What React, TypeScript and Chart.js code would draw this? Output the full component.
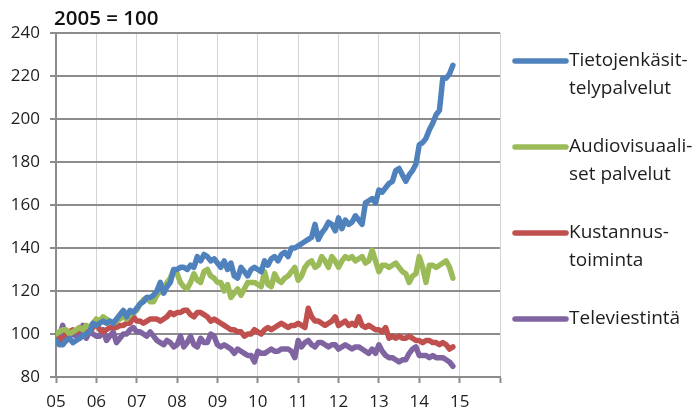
import React, { useEffect, useRef } from "react";
import { Chart, registerables } from "chart.js";

Chart.register(...registerables);

// Monthly index values, Jan 2005 – Nov 2014 (2005 = 100)
const startYear = 2005;

const tietojenkasittely = [
  97, 95, 95, 97, 98, 96, 97, 98, 99, 100, 101, 105,
  104, 105, 106, 105, 106, 105, 107, 109, 111, 108, 111, 110,
  112, 114, 115, 117, 117, 118, 120, 124, 119, 122, 124, 130,
  130, 131, 131, 130, 132, 131, 136, 134, 137, 136, 134, 135,
  133, 131, 134, 130, 133, 127, 126, 131, 129, 127, 130, 131,
  130, 129, 134, 132, 135, 136, 134, 137, 138, 136, 140, 140,
  141, 142, 143, 144, 145, 151, 144, 147, 149, 152, 151, 148,
  154, 149, 153, 151, 152, 155, 153, 151, 161, 162, 163, 161,
  167, 166, 168, 170, 171, 176, 177, 174, 171, 174, 176, 179,
  188, 189, 191, 195, 198, 202, 204, 219, 219, 221, 225,
];

const audiovisuaaliset = [
  100, 101, 102, 102, 100, 101, 102, 103, 102, 104, 103, 105,
  107, 106, 108, 107, 106, 105, 106, 107, 108, 107, 109, 110,
  111, 114, 116, 117, 115, 115, 118, 120, 121, 124, 126, 130,
  128, 124, 122, 121, 124, 128, 125, 124, 129, 130, 127, 126,
  124, 124, 120, 123, 117, 119, 121, 118, 121, 124, 124, 124,
  123, 122, 129, 123, 122, 128, 125, 124, 126, 127, 129, 131,
  125, 127, 131, 133, 134, 131, 132, 136, 134, 131, 136, 134,
  131, 134, 136, 135, 136, 134, 135, 136, 133, 134, 139, 134,
  129, 132, 132, 131, 132, 133, 131, 129, 128, 124, 127, 128,
  136, 131, 124, 132, 132, 131, 132, 133, 134, 131, 126,
];

const kustannustoiminta = [
  99, 98, 97, 100, 101, 102, 101, 103, 102, 102, 101, 103,
  105, 102, 101, 102, 103, 103, 103, 104, 104, 105, 105, 108,
  106, 106, 105, 106, 107, 107, 107, 106, 107, 108, 110, 109,
  110, 110, 111, 111, 109, 108, 110, 110, 109, 108, 106, 107,
  106, 105, 104, 103, 102, 102, 101, 101, 99, 100, 100, 102,
  101, 100, 102, 103, 102, 103, 104, 105, 104, 103, 104, 104,
  105, 104, 103, 112, 108, 106, 106, 105, 104, 105, 106, 108,
  104, 105, 106, 104, 105, 104, 108, 104, 103, 104, 103, 102,
  102, 101, 103, 98, 99, 98, 99, 98, 98, 99, 98, 97,
  97, 96, 97, 97, 96, 96, 95, 96, 95, 93, 94,
];

const televiestinta = [
  98, 99, 104, 97, 99, 100, 99, 98, 104, 98, 101, 100,
  99, 99, 102, 97, 99, 101, 96, 98, 100, 100, 102, 103,
  101, 101, 100, 99, 101, 99, 97, 96, 95, 97, 96, 94,
  95, 99, 94, 96, 99, 95, 94, 98, 96, 96, 100, 99,
  95, 94, 95, 94, 93, 91, 93, 92, 91, 90, 90, 87,
  92, 91, 91, 92, 93, 92, 92, 93, 93, 93, 92, 89,
  97, 94, 96, 97, 95, 94, 96, 96, 95, 94, 95, 95,
  93, 94, 95, 94, 93, 94, 94, 93, 92, 91, 93, 91,
  95, 92, 90, 89, 89, 88, 87, 88, 88, 91, 93, 94,
  90, 90, 90, 89, 90, 89, 89, 89, 88, 87, 85,
];

const seriesNames = [
  ["Tietojenkäsit-", "telypalvelut"],
  ["Audiovisuaali-", "set palvelut"],
  ["Kustannus-", "toiminta"],
  ["Televiestintä"],
];
const seriesColors = ["#4F81BD", "#9BBB59", "#C0504D", "#8064A2"];
const xTickLabels = ["05", "06", "07", "08", "09", "10", "11", "12", "13", "14", "15", ""];
const yMin = 80;
const yMax = 240;
const yStep = 20;
const baseLabel = "2005 = 100";

const FONT = '"Open Sans", "Noto Sans", sans-serif';
const TEXT_COLOR = "#1e1e1e";

const legendPlugin = {
  id: "customLegend",
  afterDraw(chart: any) {
    const ctx = chart.ctx;
    ctx.save();
    // base label
    ctx.fillStyle = "#111";
    ctx.font = `600 20.5px ${FONT}`;
    ctx.textAlign = "left";
    ctx.textBaseline = "alphabetic";
    ctx.fillText(baseLabel, 54, 25);

    const ys = [61, 147, 233, 319];
    ctx.font = `19px ${FONT}`;
    ctx.textBaseline = "middle";
    seriesNames.forEach((lines, i) => {
      const y = ys[i];
      ctx.strokeStyle = seriesColors[i];
      ctx.lineWidth = 5.5;
      ctx.lineCap = "round";
      ctx.beginPath();
      ctx.moveTo(515, y);
      ctx.lineTo(566, y);
      ctx.stroke();
      ctx.fillStyle = TEXT_COLOR;
      lines.forEach((t, j) => {
        ctx.fillText(t, 569, y + j * 28);
      });
    });
    ctx.restore();
  },
};

export default function App() {
  const canvasRef = useRef<HTMLCanvasElement>(null);

  useEffect(() => {
    document.body.style.margin = "0";
    const allSeries = [tietojenkasittely, audiovisuaaliset, kustannustoiminta, televiestinta];
    const chart = new Chart(canvasRef.current!, {
      type: "line",
      data: {
        datasets: allSeries.map((vals, si) => ({
          label: seriesNames[si].join(""),
          data: vals.map((v, i) => ({ x: startYear + i / 12, y: v })),
          borderColor: seriesColors[si],
          backgroundColor: seriesColors[si],
          borderWidth: 5.5,
          pointRadius: 0,
          tension: 0,
          borderCapStyle: "round",
          borderJoinStyle: "round",
        })),
      },
      options: {
        animation: false,
        responsive: false,
        layout: { padding: { top: 33, right: 200, left: 0, bottom: 0 } },
        plugins: { legend: { display: false }, tooltip: { enabled: false } },
        scales: {
          x: {
            type: "linear",
            min: startYear,
            max: startYear + xTickLabels.length - 1,
            afterFit: (s: any) => {
              s.height = 33;
            },
            afterBuildTicks: (s: any) => {
              s.ticks = xTickLabels.map((_, i) => ({ value: startYear + i }));
            },
            ticks: {
              autoSkip: false,
              maxRotation: 0,
              padding: 9,
              color: TEXT_COLOR,
              font: { family: FONT, size: 17 },
              callback: (_v: any, i: number) => xTickLabels[i],
            },
            grid: {
              color: "#d4d4d4",
              lineWidth: 1,
              borderDash: [4, 3],
              tickLength: 6,
              tickColor: "#8c8c8c",
              tickWidth: 2,
              tickBorderDash: [],
            } as any,
            border: { display: true, color: "#8c8c8c", width: 2 },
          },
          y: {
            min: yMin,
            max: yMax,
            afterFit: (s: any) => {
              s.width = 56;
            },
            ticks: {
              stepSize: yStep,
              padding: 10,
              color: TEXT_COLOR,
              font: { family: FONT, size: 17 },
            },
            grid: {
              color: "#8c8c8c",
              lineWidth: 2,
              borderDash: [12, 5],
              tickLength: 6,
              tickColor: "#8c8c8c",
              tickWidth: 2,
              tickBorderDash: [],
            } as any,
            border: { display: true, color: "#8c8c8c", width: 2 },
          },
        },
      } as any,
      plugins: [legendPlugin],
    });
    return () => chart.destroy();
  }, []);

  return (
    <div style={{ width: 700, height: 410 }}>
      <canvas ref={canvasRef} width={700} height={410} />
    </div>
  );
}
